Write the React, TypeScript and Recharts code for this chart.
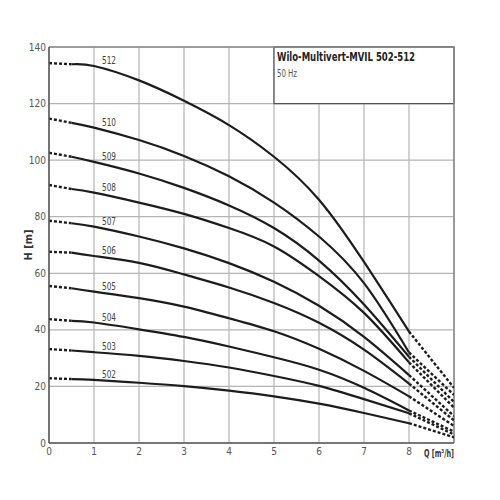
import React from "react"
import {
  CartesianGrid,
  Label,
  Line,
  LineChart,
  ReferenceArea,
  ReferenceLine,
  XAxis,
  YAxis,
} from "recharts"

// flow points (m³/h) that every curve is read at
const Q = [0, 0.5, 1, 2, 3, 4, 5, 6, 7, 8, 9]

// head (m) per pump size at the Q points above
const h512 = [134.3, 133.9, 133.3, 128.2, 121, 112.4, 101.2, 86, 64, 39.4, 19.5]
const h510 = [114.7, 113.2, 111.5, 107.1, 101.5, 94.3, 85, 73, 56.5, 32, 17]
const h509 = [102.6, 101.2, 99.4, 95.3, 90.2, 84, 76, 64.5, 49, 30.5, 14.5]
const h508 = [91.2, 89.8, 88.5, 85, 81, 76, 69.5, 59, 46, 28.5, 12.5]
const h507 = [78.6, 77.7, 76.5, 73, 68.8, 63.6, 57, 48.5, 37.5, 24, 9.5]
const h506 = [67.6, 67.3, 66.1, 63.7, 59.6, 55, 49.5, 42.5, 33, 21, 8]
const h505 = [55.5, 54.7, 53.5, 51.2, 48.2, 44.1, 39.5, 33.3, 25.5, 16.5, 6]
const h504 = [43.8, 43.2, 42.6, 40.2, 37.5, 34.1, 30.3, 25.9, 19.5, 11.5, 4]
const h503 = [33.2, 32.7, 32.1, 30.8, 29, 26.7, 23.7, 20.2, 15.5, 10.5, 3]
const h502 = [22.9, 22.6, 22.3, 21.3, 20.1, 18.5, 16.5, 13.9, 10.6, 7, 2]

const series = [
  { name: "512", h: h512 },
  { name: "510", h: h510 },
  { name: "509", h: h509 },
  { name: "508", h: h508 },
  { name: "507", h: h507 },
  { name: "506", h: h506 },
  { name: "505", h: h505 },
  { name: "504", h: h504 },
  { name: "503", h: h503 },
  { name: "502", h: h502 },
]

const xTicks = [0, 1, 2, 3, 4, 5, 6, 7, 8]
const yTicks = [0, 20, 40, 60, 80, 100, 120, 140]

const FONT = "'DejaVu Sans Condensed', 'Liberation Sans Narrow', sans-serif"
const INK = "#1c1c1c"

const toPoints = (h: number[], from: number, to: number) =>
  Q.slice(from, to + 1).map((q, i) => ({ q, h: h[from + i] }))

const curveLabel = (name: string) => (p: any) =>
  p.index === 1 ? (
    <text
      x={p.x + 8}
      y={p.y - 2}
      fontSize={11}
      fill="#444"
      fontFamily={FONT}
      textLength={14}
      lengthAdjust="spacingAndGlyphs"
    >
      {name}
    </text>
  ) : (
    <g />
  )

export default function App() {
  return (
    <div style={{ position: "absolute", left: 0, top: 0, background: "#fff" }}>
      <LineChart
        width={500}
        height={500}
        margin={{ top: 47, right: 46, bottom: 37, left: 9 }}
      >
        <CartesianGrid stroke="#b4b4b4" strokeWidth={1.2} />
        <XAxis
          type="number"
          dataKey="q"
          domain={[0, 9]}
          ticks={xTicks}
          height={20}
          tickSize={0}
          tickMargin={5}
          tickLine={false}
          axisLine={{ stroke: "#555", strokeWidth: 1.5 }}
          tick={{ fontSize: 10, fill: "#555", fontFamily: FONT }}
          allowDataOverflow
        >
          <Label
            content={(p: any) => (
              <text
                x={p.viewBox.x + p.viewBox.width - 30}
                y={p.viewBox.y + 14}
                fontSize={11}
                fontWeight="bold"
                fill="#333"
                fontFamily={FONT}
                textLength={30}
                lengthAdjust="spacingAndGlyphs"
              >
                Q [m³/h]
              </text>
            )}
          />
        </XAxis>
        <YAxis
          type="number"
          domain={[0, 140]}
          ticks={yTicks}
          width={40}
          tickSize={0}
          tickMargin={3}
          tickLine={false}
          axisLine={{ stroke: "#555", strokeWidth: 1.5 }}
          tick={{ fontSize: 10, fill: "#555", fontFamily: FONT }}
        >
          <Label
            content={() => (
              <text
                x={32}
                y={245}
                transform="rotate(-90 32 245)"
                textAnchor="middle"
                fontSize={11}
                fontWeight="bold"
                fill="#333"
                fontFamily={FONT}
              >
                H [m]
              </text>
            )}
          />
        </YAxis>
        <ReferenceLine y={140} stroke="#888" strokeWidth={1.5} />
        <ReferenceLine x={9} stroke="#888" strokeWidth={1.5} />
        <ReferenceArea
          x1={5}
          x2={9}
          y1={120}
          y2={140}
          fill="#fff"
          fillOpacity={1}
          stroke="#555"
          strokeWidth={1.3}
          label={(p: any) => (
            <g fontFamily={FONT}>
              <text
                x={p.viewBox.x + 3}
                y={p.viewBox.y + 14}
                fontSize={13}
                fontWeight="bold"
                fill="#222"
                textLength={138}
                lengthAdjust="spacingAndGlyphs"
              >
                Wilo-Multivert-MVIL 502-512
              </text>
              <text
                x={p.viewBox.x + 3}
                y={p.viewBox.y + 30}
                fontSize={10}
                fill="#555"
                textLength={20}
                lengthAdjust="spacingAndGlyphs"
              >
                50 Hz
              </text>
            </g>
          )}
        />
        {series.map((s) => (
          <Line
            key={s.name + "-start"}
            data={toPoints(s.h, 0, 1)}
            dataKey="h"
            type="linear"
            stroke={INK}
            strokeWidth={2.4}
            strokeDasharray="3 2"
            dot={false}
            activeDot={false}
            isAnimationActive={false}
          />
        ))}
        {series.map((s) => (
          <Line
            key={s.name + "-main"}
            data={toPoints(s.h, 1, 9)}
            dataKey="h"
            type="natural"
            stroke={INK}
            strokeWidth={2.2}
            dot={false}
            activeDot={false}
            label={curveLabel(s.name)}
            isAnimationActive={false}
          />
        ))}
        {series.map((s) => (
          <Line
            key={s.name + "-end"}
            data={toPoints(s.h, 9, 10)}
            dataKey="h"
            type="linear"
            stroke={INK}
            strokeWidth={2.4}
            strokeDasharray="3 2"
            dot={false}
            activeDot={false}
            isAnimationActive={false}
          />
        ))}
      </LineChart>
    </div>
  )
}
